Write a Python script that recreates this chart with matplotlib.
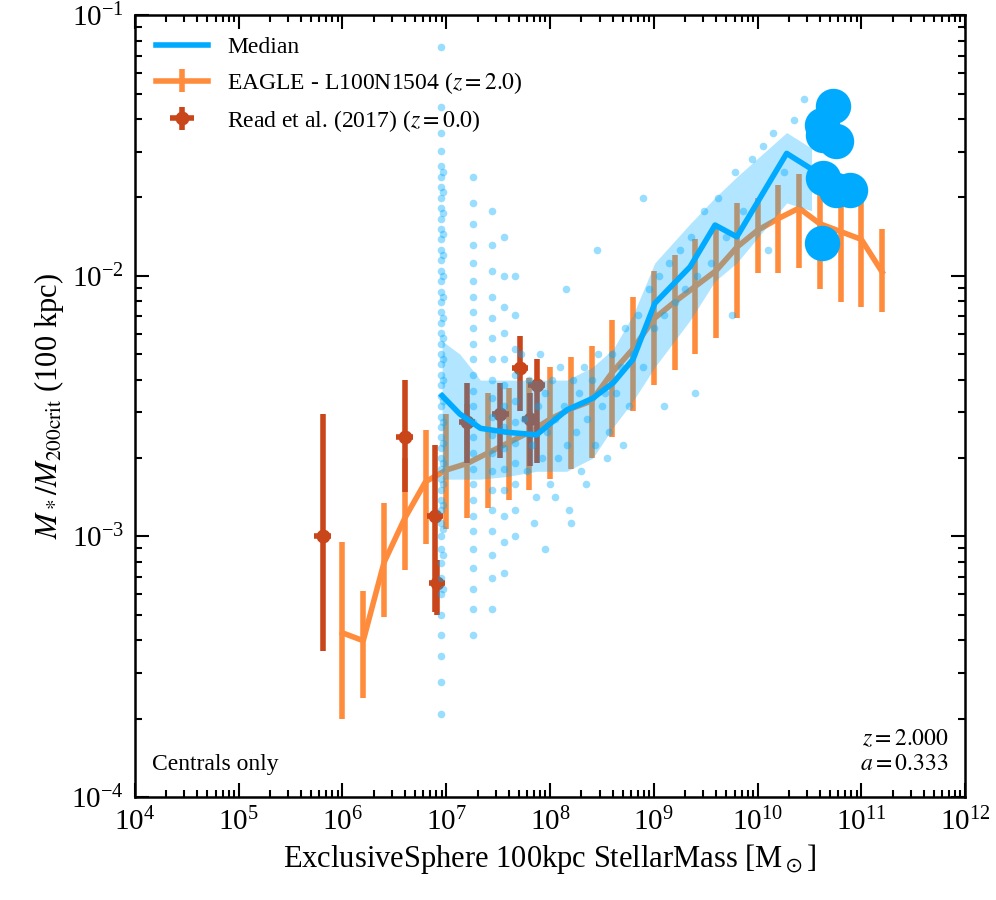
import numpy as np
import matplotlib.pyplot as plt

plt.rcParams['font.family'] = ['Liberation Serif', 'DejaVu Serif']
plt.rcParams['mathtext.fontset'] = 'stix'
plt.rcParams['font.size'] = 20

# EAGLE - L100N1504 (z=2.0), log10 values
eagle_x = [6.0, 6.2, 6.4, 6.6, 6.8, 7.0, 7.2, 7.4, 7.6, 7.8, 8.0, 8.2, 8.4, 8.6, 8.8,
           9.0, 9.2, 9.4, 9.6, 9.8, 10.0, 10.2, 10.4, 10.6, 10.8, 11.0, 11.2]
eagle_y = [-3.37, -3.40, -3.10, -2.93, -2.79, -2.745, -2.72, -2.68, -2.64, -2.60, -2.55,
           -2.51, -2.48, -2.37, -2.28, -2.165, -2.10, -2.04, -1.98, -1.89, -1.825, -1.78,
           -1.74, -1.80, -1.83, -1.86, -1.985]
eagle_lo = [-3.70, -3.62, -3.31, -3.13, -3.03, -2.97, -2.93, -2.89, -2.86, -2.82, -2.78,
            -2.74, -2.70, -2.62, -2.52, -2.42, -2.36, -2.30, -2.24, -2.16, -1.99, -1.99,
            -1.97, -2.05, -2.10, -2.12, -2.14]
eagle_hi = [-3.02, -3.21, -2.87, -2.70, -2.59, -2.53, -2.49, -2.45, -2.43, -2.39, -2.35,
            -2.31, -2.27, -2.17, -2.08, -1.98, -1.92, -1.86, -1.80, -1.72, -1.70, -1.65,
            -1.61, -1.62, -1.62, -1.65, -1.82]

# Read et al. (2017) (z=0.0)
read_x = [5.81, 6.60, 6.89, 6.91, 7.20, 7.52, 7.71, 7.81, 7.87]
read_y = [-3.00, -2.62, -2.92, -3.18, -2.56, -2.53, -2.355, -2.55, -2.42]
read_lo = [-3.44, -2.83, -3.29, -3.30, -2.72, -2.70, -2.52, -2.73, -2.72]
read_hi = [-2.53, -2.40, -2.65, -3.09, -2.41, -2.41, -2.23, -2.45, -2.32]

# median and band
med_x = [6.96, 7.13, 7.33, 7.58, 7.87, 8.16, 8.41, 8.61, 8.8, 9.01, 9.35, 9.59, 9.80, 10.28, 10.52]
med_y = [-2.46, -2.53, -2.585, -2.60, -2.61, -2.515, -2.47, -2.41, -2.32, -2.105, -1.965,
         -1.805, -1.85, -1.53, -1.59]
band_hi = [-2.25, -2.30, -2.40, -2.40, -2.40, -2.40, -2.35, -2.28, -2.15, -1.95, -1.80,
           -1.70, -1.62, -1.45, -1.51]
band_lo = [-2.78, -2.78, -2.78, -2.77, -2.75, -2.75, -2.70, -2.58, -2.48, -2.35, -2.17,
           -2.02, -1.95, -1.72, -1.75]

# individual high-mass objects
big_x = [10.73, 10.62, 10.63, 10.76, 10.63, 10.76, 10.89, 10.62]
big_y = [-1.349, -1.422, -1.46, -1.483, -1.625, -1.671, -1.671, -1.875]

# scatter of haloes (log10 values), vertical columns at discrete stellar masses
col1_x = 6.95
col1_y = [-1.12, -1.35, -1.45, -1.52, -1.58, -1.62, -1.66, -1.70, -1.74, -1.78, -1.82, -1.86,
          -1.90, -1.94, -1.98, -2.02, -2.06, -2.10, -2.14, -2.18, -2.22, -2.26, -2.30, -2.34,
          -2.38, -2.42, -2.46, -2.50, -2.54, -2.58, -2.62, -2.66, -2.70, -2.74, -2.78, -2.82,
          -2.86, -2.90, -2.95, -3.00, -3.05, -3.10, -3.16, -3.22, -3.30, -3.38, -3.46, -3.56, -3.68]
col1b_x = 6.965
col1b_y = [-1.60, -1.68, -1.76, -1.84, -1.92, -2.00, -2.08, -2.16, -2.24, -2.32, -2.40, -2.48,
           -2.56, -2.64, -2.72, -2.80, -2.88, -2.97, -3.07, -3.20]
col2_x = 7.26
col2_y = [-1.62, -1.72, -1.80, -1.88, -1.95, -2.02, -2.08, -2.14, -2.20, -2.26, -2.32, -2.38,
          -2.44, -2.50, -2.56, -2.62, -2.68, -2.74, -2.80, -2.86, -2.92, -2.98, -3.05, -3.12,
          -3.20, -3.28, -3.38]
col3_x = 7.44
col3_y = [-1.75, -1.88, -1.98, -2.08, -2.16, -2.24, -2.32, -2.40, -2.47, -2.54, -2.61, -2.68,
          -2.75, -2.82, -2.90, -2.98, -3.07, -3.16, -3.28]
col4_x = 7.56
col4_y = [-1.85, -2.00, -2.12, -2.22, -2.32, -2.42, -2.50, -2.58, -2.66, -2.74, -2.82, -2.92,
          -3.02, -3.14]
col5_x = 7.66
col5_y = [-2.00, -2.15, -2.28, -2.38, -2.48, -2.56, -2.64, -2.72, -2.80, -2.90, -3.00]
pts_x = [7.72, 7.75, 7.78, 7.80, 7.83, 7.86, 7.88, 7.90, 7.92, 7.95, 7.97, 8.00, 8.02, 8.05,
         8.08, 8.10, 8.13, 8.16, 8.18, 8.22, 8.25, 8.28, 8.30, 8.33, 8.36, 8.40, 8.43, 8.46,
         8.50, 8.53, 8.57, 8.60, 8.64, 8.68, 8.72, 8.76, 8.80, 8.85, 8.90, 8.95, 9.00, 9.05,
         9.10, 9.15, 9.20, 9.25, 9.30, 9.36, 9.42, 9.48, 9.55, 9.62, 9.70, 9.78, 9.86, 9.95,
         10.05, 10.15, 10.25, 10.35, 10.45, 7.85, 7.95, 8.05, 8.20, 8.35, 8.55, 8.70, 9.10,
         9.40, 9.75, 10.10, 8.15, 8.45, 8.90]
pts_y = [-2.30, -2.55, -2.75, -2.40, -2.65, -2.85, -2.50, -2.30, -2.70, -2.45, -2.60, -2.80,
         -2.40, -2.55, -2.70, -2.35, -2.50, -2.65, -2.90, -2.40, -2.60, -2.45, -2.75, -2.35,
         -2.55, -2.40, -2.65, -2.30, -2.50, -2.45, -2.60, -2.30, -2.45, -2.35, -2.20, -2.50,
         -2.30, -2.15, -2.35, -2.05, -2.20, -2.00, -2.15, -1.95, -2.10, -1.90, -2.05, -1.85,
         -2.00, -1.75, -1.95, -1.70, -1.85, -1.60, -1.75, -1.55, -1.50, -1.45, -1.60, -1.40,
         -1.32, -2.95, -3.05, -2.85, -2.95, -2.80, -2.70, -2.65, -2.50, -2.45, -2.15, -1.90,
         -2.05, -1.90, -1.70]

blue = '#00aaff'
orange = '#ff8c3c'
red = '#c9451a'

fig = plt.figure(figsize=(9.96, 9.0), dpi=100)
ax = fig.add_axes([0.1355, 0.1144, 0.8335, 0.8686])

ey = 10 ** np.array(eagle_y)
ax.errorbar(10 ** np.array(eagle_x), ey,
            yerr=[ey - 10 ** np.array(eagle_lo), 10 ** np.array(eagle_hi) - ey],
            color=orange, lw=4, elinewidth=4, capsize=0,
            label='EAGLE - L100N1504 ($z=2.0$)', zorder=1)

ry = 10 ** np.array(read_y)
rx = 10 ** np.array(read_x)
ax.errorbar(rx, ry, yerr=[ry - 10 ** np.array(read_lo), 10 ** np.array(read_hi) - ry],
            xerr=[rx - rx / 10 ** 0.08, rx * 10 ** 0.08 - rx],
            fmt='o', color=red, ms=9, lw=4, elinewidth=4, capsize=0,
            label='Read et al. (2017) ($z=0.0$)', zorder=2)

ax.fill_between(10 ** np.array(med_x), 10 ** np.array(band_lo), 10 ** np.array(band_hi),
                color=blue, alpha=0.3, lw=0, zorder=3)
sx = [col1_x] * len(col1_y) + [col1b_x] * len(col1b_y) + [col2_x] * len(col2_y) + \
     [col3_x] * len(col3_y) + [col4_x] * len(col4_y) + [col5_x] * len(col5_y) + pts_x
sy = col1_y + col1b_y + col2_y + col3_y + col4_y + col5_y + pts_y
ax.scatter(10 ** np.array(sx), 10 ** np.array(sy), s=30, color=blue, alpha=0.4,
           lw=0, zorder=3)
ax.plot(10 ** np.array(med_x), 10 ** np.array(med_y), color=blue, lw=4,
        label='Median', zorder=4)
ax.scatter(10 ** np.array(big_x), 10 ** np.array(big_y), s=650, color=blue, lw=0, zorder=5)

ax.set_xscale('log')
ax.set_yscale('log')
ax.set_xlim(1e4, 1e12)
ax.set_ylim(1e-4, 1e-1)
ax.tick_params(which='both', direction='in', top=True, right=True, width=1.5)
ax.tick_params(which='major', length=10, labelsize=21, pad=8)
ax.tick_params(which='minor', length=5)
for s in ax.spines.values():
    s.set_linewidth(1.8)

ax.set_xlabel(r'ExclusiveSphere 100kpc StellarMass [M$_\odot$]', fontsize=22)
ax.set_ylabel(r'$M_*/M_{\rm 200crit}$ (100 kpc)', fontsize=22)

h, l = ax.get_legend_handles_labels()
order = [l.index('Median'), l.index('EAGLE - L100N1504 ($z=2.0$)'),
         l.index('Read et al. (2017) ($z=0.0$)')]
ax.legend([h[i] for i in order], [l[i] for i in order], loc='upper left',
          frameon=False, fontsize=17, handlelength=2.2)

ax.text(0.02, 0.035, 'Centrals only', transform=ax.transAxes, fontsize=17)
ax.text(0.98, 0.035, '$z=2.000$\n$a=0.333$', transform=ax.transAxes, fontsize=17,
        ha='right', multialignment='right')

fig.savefig('out.png', dpi=100)
